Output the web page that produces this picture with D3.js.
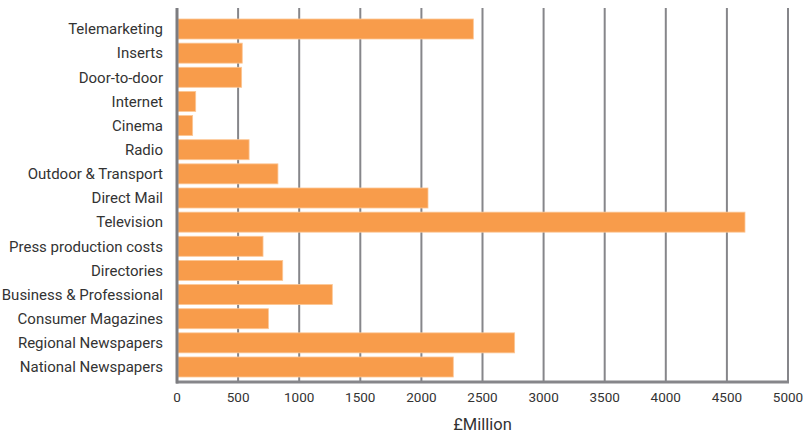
<!DOCTYPE html>
<html>
<head>
<meta charset="utf-8">
<script src="https://cdn.jsdelivr.net/npm/d3@7"></script>
<style>
  html, body { margin: 0; padding: 0; background: #fff; }
  svg { display: block; }
  text { font-family: Roboto, "Noto Sans", sans-serif; fill: #333; }
</style>
</head>
<body>
<svg id="chart" width="804" height="433"></svg>
<script>
// Advertising expenditure by medium, £ million
const categories = [
  "Telemarketing", "Inserts", "Door-to-door", "Internet", "Cinema", "Radio",
  "Outdoor & Transport", "Direct Mail", "Television", "Press production costs",
  "Directories", "Business & Professional", "Consumer Magazines",
  "Regional Newspapers", "National Newspapers"
];
const values = [
  2425, 534, 529, 153, 128, 590,
  826, 2054, 4648, 704,
  865, 1271, 748,
  2763, 2261
];
const xTicks = [0, 500, 1000, 1500, 2000, 2500, 3000, 3500, 4000, 4500, 5000];
const axisTitle = "£Million";

const svg = d3.select("#chart");
const plotLeft = 177, plotRight = 788, plotTop = 8, plotBottom = 382;

const x = d3.scaleLinear().domain([0, 5000]).range([plotLeft, plotRight]);
const y = d3.scaleBand().domain(categories)
  .range([16.93, 379.07]).paddingInner(0.171).paddingOuter(0.0855);

// vertical gridlines
svg.append("g").selectAll("line").data(xTicks.slice(1)).join("line")
  .attr("x1", d => x(d)).attr("x2", d => x(d))
  .attr("y1", plotTop).attr("y2", plotBottom)
  .attr("stroke", "#86868a").attr("stroke-width", 2);

// bars
svg.append("g").selectAll("rect").data(values).join("rect")
  .attr("x", x(0) + 1)
  .attr("y", (d, i) => y(categories[i]))
  .attr("width", d => x(d) - x(0) - 1)
  .attr("height", y.bandwidth())
  .attr("fill", "#f89c4b")
  .attr("stroke", "#fcc796").attr("stroke-width", 0.8);

// bottom axis line and tick labels
svg.append("line")
  .attr("x1", plotLeft - 1).attr("x2", plotRight + 1)
  .attr("y1", plotBottom).attr("y2", plotBottom)
  .attr("stroke", "#86868a").attr("stroke-width", 3);

svg.append("g").selectAll("text").data(xTicks).join("text")
  .attr("x", d => x(d)).attr("y", 402)
  .attr("text-anchor", "middle")
  .style("font-size", "13.5px")
  .text(d => d);

// left axis line
svg.append("line")
  .attr("x1", plotLeft).attr("x2", plotLeft)
  .attr("y1", plotTop).attr("y2", plotBottom + 1.5)
  .attr("stroke", "#7c7c80").attr("stroke-width", 3);

// category labels
svg.append("g").selectAll("text").data(categories).join("text")
  .attr("x", 163)
  .attr("y", d => y(d) + y.bandwidth() / 2)
  .attr("dy", "0.35em")
  .attr("text-anchor", "end")
  .style("font-size", "15px")
  .text(d => d);

svg.append("text")
  .attr("x", x(2500)).attr("y", 430)
  .attr("text-anchor", "middle")
  .style("font-size", "16.5px")
  .text(axisTitle);
</script>
</body>
</html>
